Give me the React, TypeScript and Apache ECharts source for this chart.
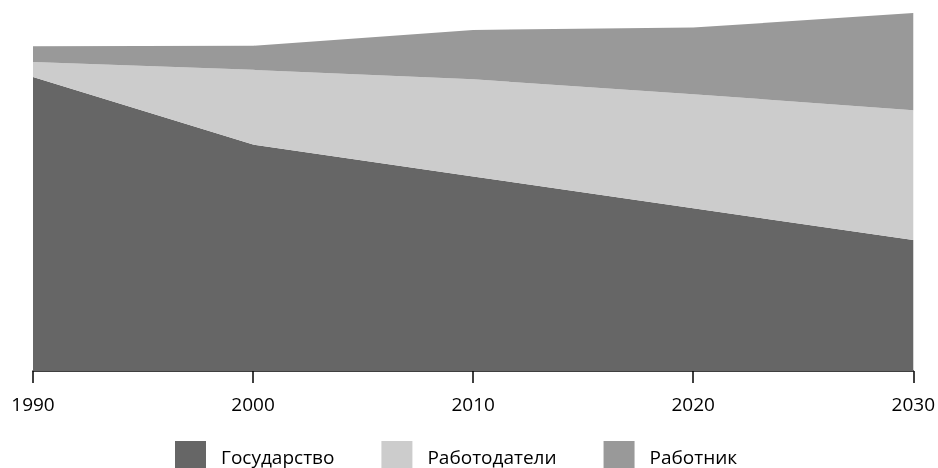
import React, { useEffect, useRef } from "react";
import * as echarts from "echarts";

const years = ["1990", "2000", "2010", "2020", "2030"];
const seriesNames = ["Государство", "Работодатели", "Работник"];
const gosudarstvo = [90.5, 69.7, 59.9, 50.1, 40.3];
const rabotodateli = [4.6, 23.0, 29.9, 35.1, 40.0];
const rabotnik = [4.9, 7.4, 15.2, 20.5, 29.9];
const colors = ["#666666", "#cccccc", "#999999"];
const yMax = 110.2;

export default function App() {
  const ref = useRef<HTMLDivElement>(null);
  useEffect(() => {
    if (!ref.current) return;
    const chart = echarts.init(ref.current, undefined, { renderer: "svg" });
    const values = [gosudarstvo, rabotodateli, rabotnik];
    chart.setOption({
      animation: false,
      color: colors,
      grid: { left: 33, right: 22, top: 13, bottom: 97, containLabel: false },
      legend: {
        left: 175,
        top: 441,
        padding: 0,
        itemWidth: 31,
        itemHeight: 31,
        itemGap: 47,
        icon: "rect",
        textStyle: { fontFamily: "Open Sans", fontSize: 19, color: "#000", padding: [0, 0, 0, 10] },
        data: seriesNames,
      },
      xAxis: {
        type: "category",
        boundaryGap: false,
        data: years,
        axisLine: { lineStyle: { color: "#000", width: 1.5 } },
        axisTick: { show: true, length: 12, lineStyle: { color: "#000", width: 1.5 } },
        axisLabel: { fontFamily: "Open Sans", fontSize: 19, color: "#000", margin: 23 },
        splitLine: { show: false },
      },
      yAxis: { type: "value", min: 0, max: yMax, show: false, splitLine: { show: false } },
      series: seriesNames.map((name, i) => ({
        name,
        type: "line",
        stack: "total",
        data: values[i],
        showSymbol: false,
        symbol: "none",
        lineStyle: { width: 0, opacity: 0 },
        areaStyle: { color: colors[i], opacity: 1 },
        z: 1,
      })),
    });
    return () => chart.dispose();
  }, []);
  return (
    <div
      ref={ref}
      style={{ position: "fixed", left: 0, top: 0, width: 938, height: 468 }}
    />
  );
}
